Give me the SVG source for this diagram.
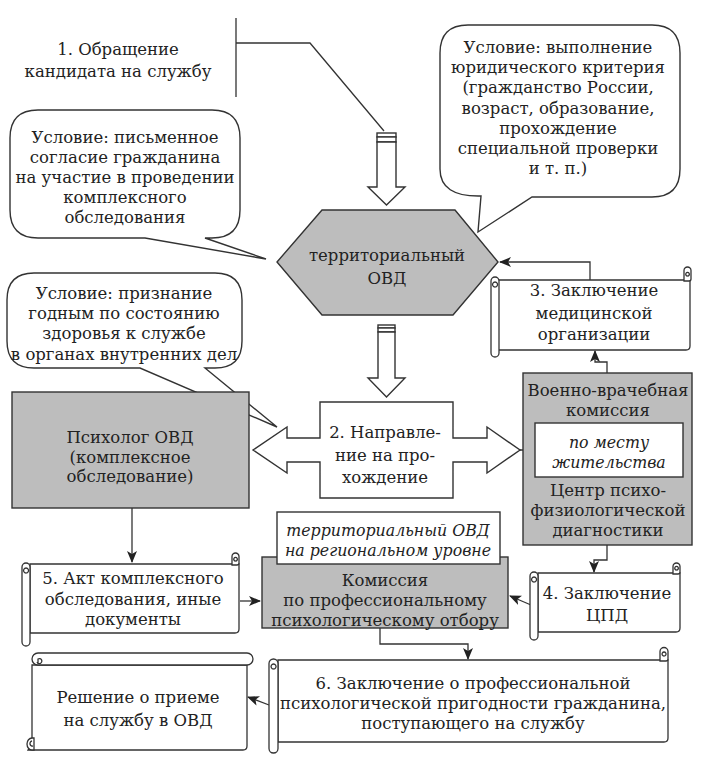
<svg xmlns="http://www.w3.org/2000/svg" width="702" height="764" viewBox="0 0 702 764">
<defs>
<style>
text{font-family:'DejaVu Serif',serif;font-size:16.5px;fill:#222;text-anchor:middle}
.i{font-style:italic;font-size:15.8px}
.ln{fill:none;stroke:#333;stroke-width:1.3}
.wb{fill:#fff;stroke:#333;stroke-width:1.4}
.gb{fill:#bdbdbd;stroke:#333;stroke-width:1.4}
.sc{fill:#fff;stroke:#333;stroke-width:1.3}
.arr{fill:none;stroke:#333;stroke-width:1.3;marker-end:url(#ah)}
</style>
<marker id="ah" markerUnits="userSpaceOnUse" markerWidth="12" markerHeight="10" refX="11" refY="5" orient="auto">
<path d="M0,0 L12,5 L0,10 L3,5 Z" fill="#222"/>
</marker>
</defs>
<rect width="702" height="764" fill="#fff"/>

<g id="connectors">
<path class="ln" d="M236,18 V97 M236,43 H310 L384,131"/>
<path class="arr" d="M590,280 V262 H500"/>
<path class="arr" d="M607,373 V362 H595 V351"/>
<path class="ln" d="M520,450 H535 M683,450 H692"/>
<path class="arr" d="M132,508 V562"/>
<path class="arr" d="M240,601 H260"/>
<path class="arr" d="M607,545 V560 H594 V572"/>
<path class="arr" d="M531,605 L510,596"/>
<path class="arr" d="M380,628 V644 H468 V659"/>
<path class="arr" d="M269,705 L248,697"/>
</g>

<g id="step1">
<text x="118" y="55">1. Обращение</text>
<text x="118" y="77">кандидата на службу</text>
</g>

<g id="hollow-arrow-1">
<rect class="wb" x="377" y="133" width="19" height="4" stroke-width="1.1"/>
<rect class="wb" x="377" y="137" width="19" height="5" stroke-width="1.1"/>
<path class="wb" d="M377,142 H396 V187 H405 L386.5,205 L368,187 H377 Z"/>
</g>

<g id="callout-consent">
<path class="wb" d="M38,110 H212 Q240,110 240,138 V210 Q240,238 212,238 H205 L266,259 L145,238 H38 Q10,238 10,210 V138 Q10,110 38,110 Z"/>
<text x="125" y="143">Условие: письменное</text>
<text x="125" y="163">согласие гражданина</text>
<text x="125" y="183">на участие в проведении</text>
<text x="125" y="203">комплексного</text>
<text x="125" y="223">обследования</text>
</g>

<g id="callout-legal">
<path class="wb" d="M468,25 H652 Q680,25 680,53 V169 Q680,197 652,197 H532 L478,232 L481,196 Q440,197 440,169 V53 Q440,25 468,25 Z"/>
<text x="558" y="53">Условие: выполнение</text>
<text x="558" y="73">юридического критерия</text>
<text x="558" y="93">(гражданство России,</text>
<text x="558" y="114">возраст, образование,</text>
<text x="558" y="134">прохождение</text>
<text x="558" y="154">специальной проверки</text>
<text x="558" y="174">и т. п.)</text>
</g>

<g id="territorial-ovd">
<path class="gb" d="M322,210 H455 L498,262 L453,315 H322 L277,262 Z"/>
<text x="387" y="261">территориальный</text>
<text x="387" y="284">ОВД</text>
</g>

<g id="scroll-med">
<path class="sc" d="M498,280 H690 V346 Q690,350 686,350 H498 Z"/>
<rect class="sc" x="491" y="277" width="8" height="80" rx="4"/>
<path class="ln" d="M495,287 a2.5,2.5 0 1 1 0.1,0" stroke-width="1"/>
<path class="sc" d="M684,281 V270.5 a3.5,3.5 0 0 1 7,0 V279 Q691,281 689,281 Z"/>
<path class="ln" d="M687.5,276 a1.8,1.8 0 1 1 0.1,0" stroke-width="1"/>
<text x="594" y="296">3. Заключение</text>
<text x="594" y="319">медицинской</text>
<text x="594" y="340">организации</text>
</g>

<g id="callout-health">
<path class="wb" d="M34,273 H215 Q242,273 242,300 V341 Q242,368 215,368 H205 L277,427 L140,368 H34 Q7,368 7,341 V300 Q7,273 34,273 Z"/>
<text x="124" y="299">Условие: признание</text>
<text x="124" y="319">годным по состоянию</text>
<text x="124" y="339">здоровья к службе</text>
<text x="124" y="360">в органах внутренних дел</text>
</g>

<g id="hollow-arrow-2">
<rect class="wb" x="378" y="325" width="17" height="3" stroke-width="1.1"/>
<rect class="wb" x="378" y="328" width="17" height="4" stroke-width="1.1"/>
<path class="wb" d="M378,332 H395 V378 H405 L386.5,397 L368,378 H378 Z"/>
</g>

<g id="psychologist">
<rect class="gb" x="12" y="392" width="237" height="116"/>
<text x="130" y="443">Психолог ОВД</text>
<text x="130" y="463">(комплексное</text>
<text x="130" y="482">обследование)</text>
</g>

<g id="referral">
<path class="wb" d="M320,402 H453 V438 H487 V427 L520,450 L487,473 V462 H453 V498 H320 V462 H287 V473 L253,450 L287,427 V438 H320 Z"/>
<text x="385" y="438">2. Направле-</text>
<text x="385" y="461">ние на про-</text>
<text x="385" y="483">хождение</text>
</g>

<g id="vvk-cpd">
<rect class="gb" x="523" y="373" width="169" height="172"/>
<text x="608" y="396">Военно-врачебная</text>
<text x="608" y="416">комиссия</text>
<rect class="wb" x="535" y="423" width="148" height="54"/>
<text class="i" x="609" y="448">по месту</text>
<text class="i" x="609" y="468">жительства</text>
<text x="608" y="496">Центр психо-</text>
<text x="608" y="516">физиологической</text>
<text x="608" y="536">диагностики</text>
</g>

<g id="scroll-act">
<path class="sc" d="M30,564 H239 V629 Q239,633 235,633 H30 Z"/>
<rect class="sc" x="22" y="563" width="8" height="83" rx="4"/>
<path class="ln" d="M26,573 a2.5,2.5 0 1 1 0.1,0" stroke-width="1"/>
<path class="sc" d="M232,565 V556.5 a3.5,3.5 0 0 1 7,0 V563 Q239,565 237,565 Z"/>
<path class="ln" d="M235.5,561 a1.8,1.8 0 1 1 0.1,0" stroke-width="1"/>
<text x="133" y="584">5. Акт комплексного</text>
<text x="133" y="605">обследования, иные</text>
<text x="133" y="625">документы</text>
</g>

<g id="commission">
<rect class="gb" x="262" y="557" width="246" height="71"/>
<rect class="wb" x="277" y="512" width="223" height="52"/>
<text class="i" x="388" y="536">территориальный ОВД</text>
<text class="i" x="388" y="556">на региональном уровне</text>
<text x="385" y="586">Комиссия</text>
<text x="385" y="606">по профессиональному</text>
<text x="385" y="626">психологическому отбору</text>
</g>

<g id="scroll-cpd">
<path class="sc" d="M538,573 H680 V628 Q680,632 676,632 H538 Z"/>
<rect class="sc" x="530" y="572" width="8" height="68" rx="4"/>
<path class="ln" d="M534,582 a2.5,2.5 0 1 1 0.1,0" stroke-width="1"/>
<path class="sc" d="M673,574 V566.5 a3.5,3.5 0 0 1 7,0 V572 Q680,574 678,574 Z"/>
<path class="ln" d="M676.5,570 a1.8,1.8 0 1 1 0.1,0" stroke-width="1"/>
<text x="607" y="599">4. Заключение</text>
<text x="607" y="621">ЦПД</text>
</g>

<g id="scroll-conclusion">
<path class="sc" d="M278,660 H668 V738 Q668,742 664,742 H278 Z"/>
<rect class="sc" x="269" y="659" width="9" height="94" rx="4.5"/>
<path class="ln" d="M273.5,669 a2.5,2.5 0 1 1 0.1,0" stroke-width="1"/>
<path class="sc" d="M660,661 V651.5 a4,4 0 0 1 8,0 V659 Q668,661 666,661 Z"/>
<path class="ln" d="M664,656 a2,2 0 1 1 0.1,0" stroke-width="1"/>
<text x="473" y="689">6. Заключение о профессиональной</text>
<text x="473" y="709">психологической пригодности гражданина,</text>
<text x="473" y="729">поступающего на службу</text>
</g>

<g id="decision">
<path class="sc" d="M32,665 H247 V746 Q247,750 243,750 H28 L32,743 Z"/>
<rect class="sc" x="32" y="653" width="221" height="12" rx="6"/>
<path class="ln" d="M38,664 V659 a2.5,2.5 0 1 1 -1,3" stroke-width="1"/>
<path class="sc" d="M32,738 a5,6 0 1 0 0,12 H34 V738 Z"/>
<path class="ln" d="M32,741 a2.5,2.5 0 1 0 1,5" stroke-width="1"/>
<text x="138" y="703">Решение о приеме</text>
<text x="138" y="726">на службу в ОВД</text>
</g>
</svg>
